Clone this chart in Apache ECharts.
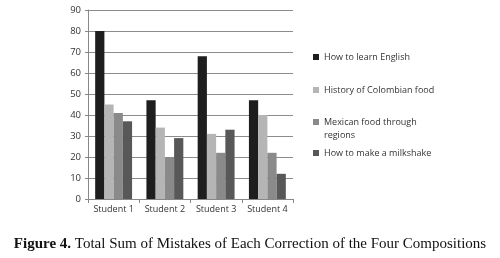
<!DOCTYPE html>
<html><head><meta charset="utf-8">
<script src="https://cdn.jsdelivr.net/npm/echarts@6/dist/echarts.min.js"></script>
<style>html,body{margin:0;padding:0;background:#fff}#c{width:500px;height:258px}</style>
</head><body><div id="c"></div>
<script>
const categories = ['Student 1','Student 2','Student 3','Student 4'];
const seriesNames = ['How to learn English','History of Colombian food','Mexican food through\nregions','How to make a milkshake'];
const english = [80,47,68,47];
const colombian = [45,34,31,40];
const mexican = [41,20,22,22];
const milkshake = [37,29,33,12];
const colors = ['#1e1e1e','#b5b5b5','#8a8a8a','#585858'];
const values = [english, colombian, mexican, milkshake];
const legendTops = [45.5, 78.5, 97.5, 141.5];
const chart = echarts.init(document.getElementById('c'));
chart.setOption({
  animation:false,
  grid:{left:88,top:10,width:205,height:189},
  xAxis:{type:'category',data:categories,
    axisLine:{lineStyle:{color:'#888'}},axisTick:{show:true,lineStyle:{color:'#888'},length:4},
    axisLabel:{color:'#333',fontFamily:'Open Sans',fontSize:9,margin:6,interval:0}},
  yAxis:{type:'value',min:0,max:90,interval:10,
    axisLine:{show:true,lineStyle:{color:'#888'}},axisTick:{show:true,length:3,lineStyle:{color:'#888'}},
    splitLine:{lineStyle:{color:'#8c8c8c'}},
    axisLabel:{color:'#333',fontFamily:'Open Sans',fontSize:9.5,margin:7}},
  legend: seriesNames.map((n,i)=>({orient:'vertical',left:308,top:legendTops[i],itemWidth:6,itemHeight:6,icon:'rect',itemGap:4,
    textStyle:{color:'#333',fontFamily:'Open Sans',fontSize:9,lineHeight:13},
    formatter: name => (name.indexOf('\n')>=0 ? '\u00a0\n' + name : name),
    data:[n]})),
  title:{text:'{b|Figure 4.} Total Sum of Mistakes of Each Correction of the Four Compositions',
    left:'center',top:232,
    textStyle:{fontFamily:'Liberation Serif',fontSize:15,fontWeight:'normal',color:'#111',
      rich:{b:{fontFamily:'Liberation Serif',fontSize:15,fontWeight:'bold',color:'#111'}}}},
  series: values.map((v,i)=>({name:seriesNames[i],type:'bar',data:v,barGap:'0%',barCategoryGap:'28%',
    itemStyle:{color:colors[i]}}))
});
</script></body></html>
